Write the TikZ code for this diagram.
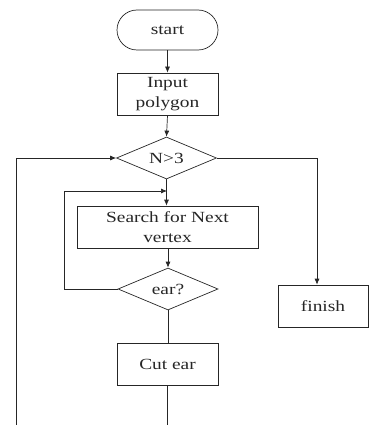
\documentclass[tikz,border=0pt]{standalone}
\usepackage{fontspec}
\setmainfont[FakeStretch=1.25]{Liberation Serif}
\usetikzlibrary{shapes.geometric,arrows.meta}
\begin{document}
\begin{tikzpicture}[x=1pt,y=-1pt,
  line width=0.7pt,
  every node/.style={font=\fontsize{15.5}{19.5}\selectfont, text=black!85},
  boxnode/.style={draw=black!85, rectangle, inner sep=0pt, align=center},
  termnode/.style={draw=black!85, rectangle, rounded corners=20pt, minimum width=101pt, minimum height=40pt, inner sep=0pt},
  decnode/.style={draw=black!85, diamond, aspect=2.4, minimum width=100pt, minimum height=42pt, inner sep=0pt},
  arr/.style={draw=black!85, -{Latex[length=6pt,width=5pt]}},
  ln/.style={draw=black!85}]
\useasboundingbox (0,0) rectangle (369,425);
\node[termnode] (start) at (167.5,30) {start};
\node[boxnode, minimum width=101pt, minimum height=42pt] (input) at (167.5,94) {Input\\polygon};
\node[decnode] (n3) at (166.5,158) {N>3};
\node[boxnode, minimum width=181pt, minimum height=42pt] (search) at (167.5,227) {Search for Next\\vertex};
\node[decnode] (ear) at (168,289) {ear?};
\node[boxnode, minimum width=101pt, minimum height=42pt] (cut) at (167.5,364) {Cut ear};
\node[boxnode, minimum width=90pt, minimum height=42pt] (finish) at (323,306) {finish};
\coordinate (fr) at (317,158);
\coordinate (il) at (64,191);
\coordinate (ij) at (167,191);
\coordinate (cb) at (167.5,425);
\coordinate (ob) at (16,425);
\coordinate (ot) at (16,158);
\draw[arr] (start) -- (input);
\draw[arr] (input.south) -- (n3.north);
\draw[arr] (n3.south) -- (n3.south |- search.north);
\draw[arr] (n3.east) -- (fr) -- (fr |- finish.north);
\draw[arr] (ear.west) -| (il) -- (ij);
\draw[arr] (search.south -| ear.north) -- (ear.north);
\draw[ln] (ear.south) -- (cut.north -| ear.south);
\draw[ln] (cut.south) -- (cb);
\draw[arr] (ob) -- (ot) -- (n3.west);
\end{tikzpicture}
\end{document}
